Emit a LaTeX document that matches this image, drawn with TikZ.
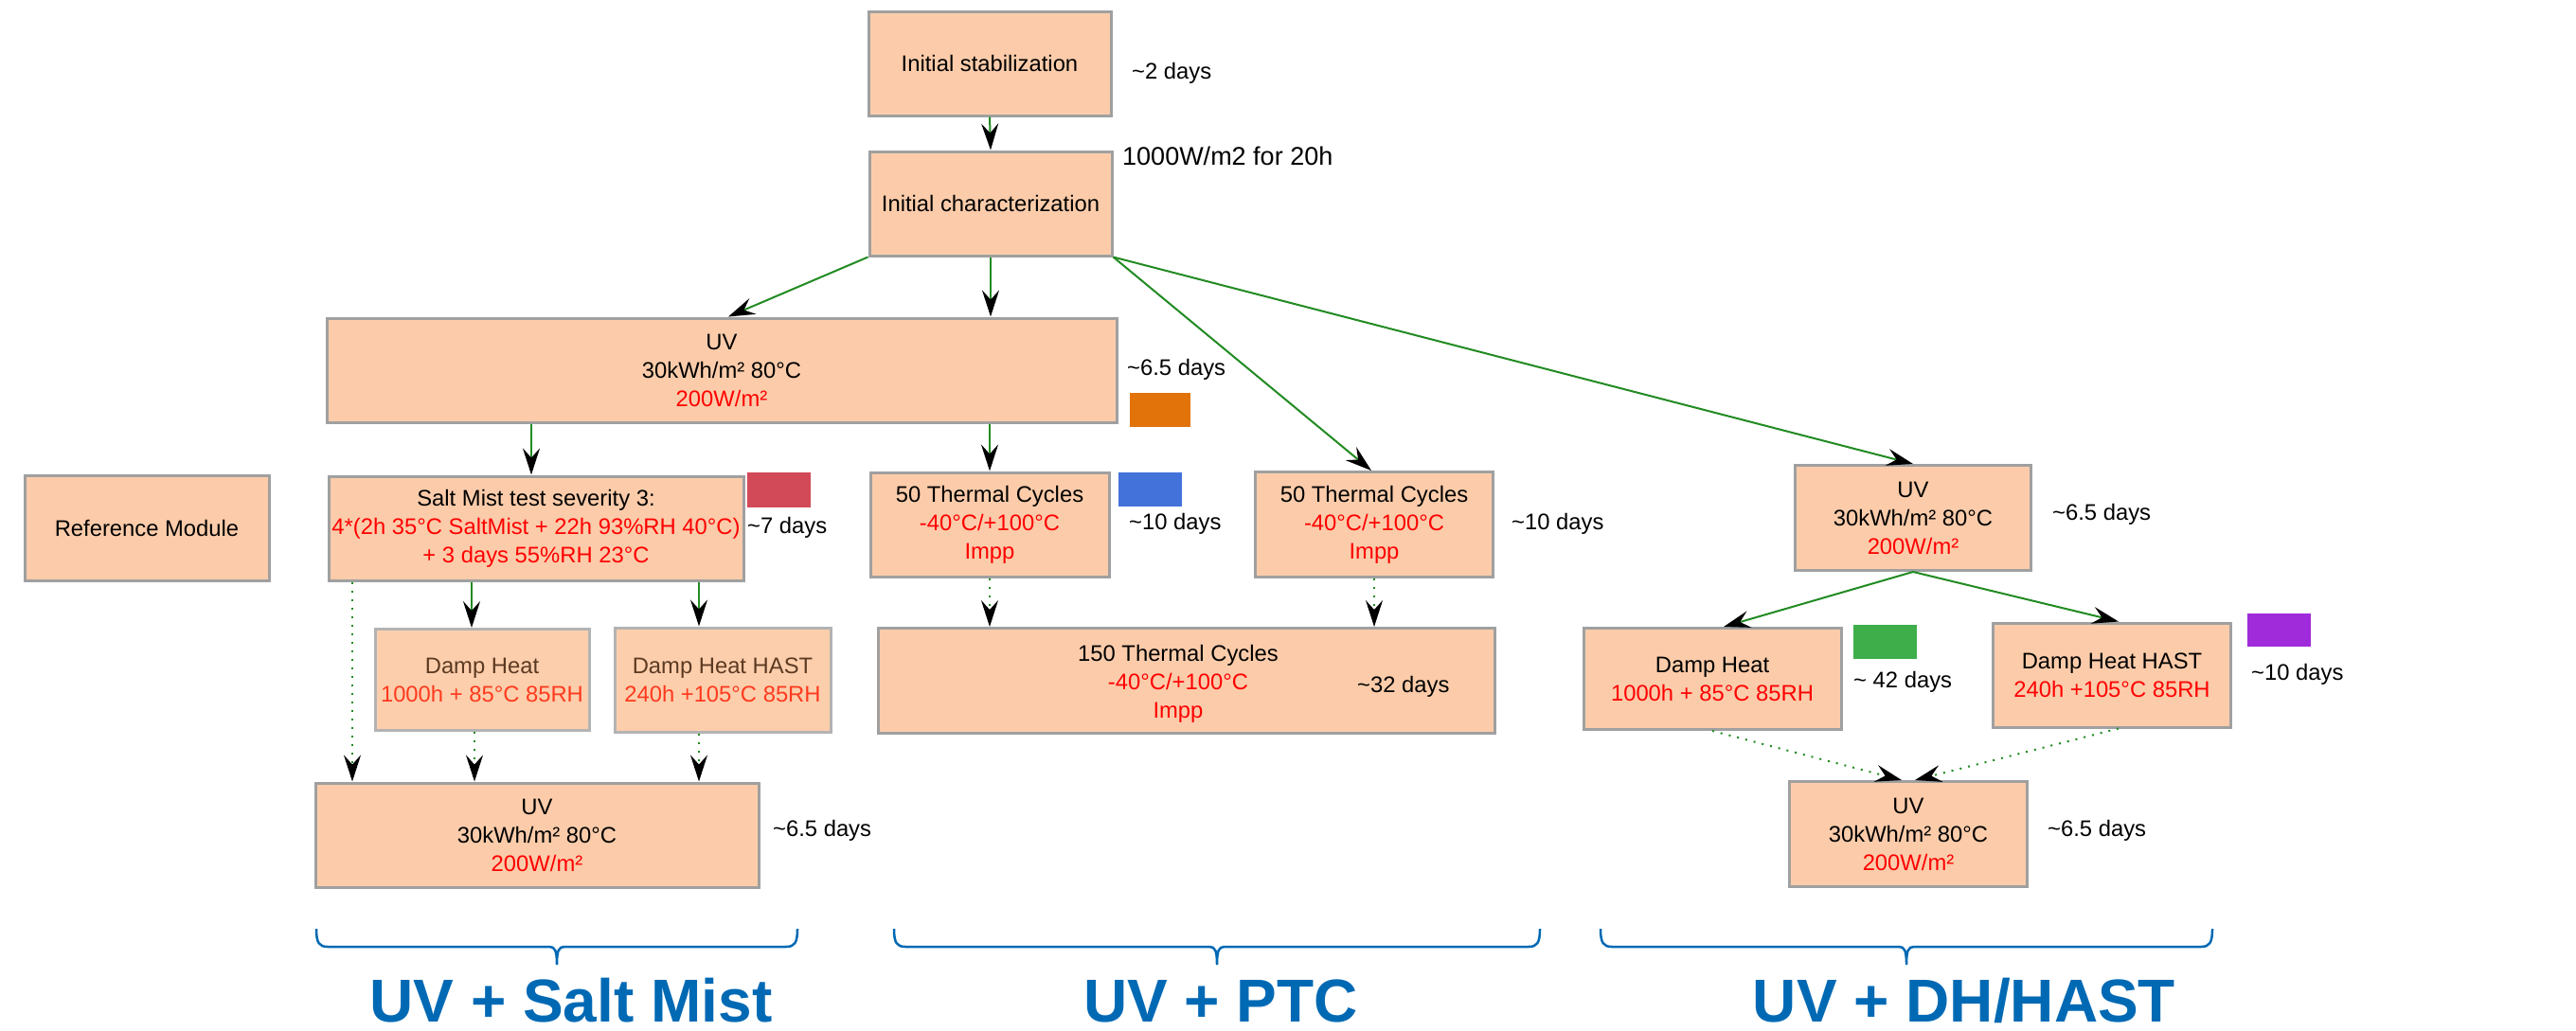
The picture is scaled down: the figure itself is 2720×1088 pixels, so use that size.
\documentclass[tikz,border=0pt]{standalone}
\usepackage{fontspec}
\setmainfont{Liberation Sans}
\usetikzlibrary{arrows.meta,calc}
\definecolor{peach}{RGB}{252,204,170}
\definecolor{peachl}{RGB}{253,206,172}
\definecolor{boxgray}{RGB}{160,160,160}
\definecolor{lgreen}{RGB}{34,139,34}
\definecolor{sqorange}{RGB}{226,115,10}
\definecolor{sqred}{RGB}{210,74,87}
\definecolor{sqblue}{RGB}{68,114,219}
\definecolor{sqgreen}{RGB}{61,174,74}
\definecolor{sqpurple}{RGB}{160,43,219}
\definecolor{bblue}{RGB}{0,105,180}
\definecolor{brn}{RGB}{92,58,34}
\definecolor{ored}{RGB}{255,58,30}
\newcommand\fs{\fontsize{23.8}{30}\selectfont}
\newcommand\apx{\textasciitilde}
\newcommand\rd[1]{\textcolor{red}{#1}}
\newcommand\BraceAt[3]{\draw[bracestyle] (#1,981) .. controls (#1,996) and (#1+3,1000) .. (#1+12,1000) -- (#2-8,1000) .. controls (#2-2,1000) and (#2,1004) .. (#2,1019) .. controls (#2,1004) and (#2+2,1000) .. (#2+8,1000) -- (#3-12,1000) .. controls (#3-3,1000) and (#3,996) .. (#3,981);}
\tikzset{
  box/.style={draw=boxgray, line width=3pt, fill=peach, align=center, inner sep=0pt, font=\fs},
  fbox/.style={box, draw=boxgray!80, fill=peachl},
  txt/.style={align=center, inner sep=0pt, font=\fs},
  day/.style={anchor=west, inner sep=0pt, font=\fs},
  sq/.style={inner sep=0pt, draw=none},
  arr/.style={line width=2pt, draw=lgreen, -{Stealth[length=28pt,width=18pt,inset=10pt,color=black]}},
  dotarr/.style={arr, dash pattern=on 2pt off 7pt},
  bracestyle/.style={draw=bblue, line width=2.5pt},
  lbl/.style={anchor=base, inner sep=0pt, text=bblue, font=\fontsize{64}{70}\selectfont\bfseries}
}
\begin{document}
\begin{tikzpicture}[x=1pt,y=-1pt]
\useasboundingbox (0,0) rectangle (2720,1088);
\fill[white] (0,0) rectangle (2720,1088);

% boxes
\node[box,minimum width=256pt,minimum height=110pt] (stab) at (1045,67) {Initial stabilization};
\node[box,minimum width=256pt,minimum height=110pt] (char) at (1046,215) {Initial characterization};
\node[box,minimum width=834pt,minimum height=110pt] (uvt) at (762,391) {UV\\30kWh/m² 80°C\\\rd{200W/m²}};
\node[box,minimum width=258pt,minimum height=111pt] (ref) at (155,558) {Reference Module};
\node[box,minimum width=438pt,minimum height=110pt] (salt) at (566,558) {Salt Mist test severity 3:\\\rd{4*(2h 35°C SaltMist + 22h 93\%RH 40°C)}\\\rd{+ 3 days 55\%RH 23°C}};
\node[box,minimum width=252pt,minimum height=110pt] (tc1) at (1045,554) {50 Thermal Cycles\\\rd{-40°C/+100°C}\\\rd{Impp}};
\node[box,minimum width=251pt,minimum height=111pt] (tc2) at (1451,554) {50 Thermal Cycles\\\rd{-40°C/+100°C}\\\rd{Impp}};
\node[box,minimum width=249pt,minimum height=111pt] (uvr) at (2020,547) {UV\\30kWh/m² 80°C\\\rd{200W/m²}};
\node[fbox,minimum width=226pt,minimum height=107pt] (dh1) at (509,718) {\textcolor{brn}{Damp Heat}\\\textcolor{ored}{1000h + 85°C 85RH}};
\node[fbox,minimum width=228pt,minimum height=110pt] (hast1) at (763,718) {\textcolor{brn}{Damp Heat HAST}\\\textcolor{ored}{240h +105°C 85RH}};
\node[box,minimum width=651pt,minimum height=111pt] (tc150) at (1253,719) {};
\node[txt] (tc150t) at (1244,722) {150 Thermal Cycles\\\rd{-40°C/+100°C}\\\rd{Impp}};
\node[day] (d32) at (1433,725) {\apx32 days};
\node[box,minimum width=272pt,minimum height=107pt] (dhr) at (1808,717) {Damp Heat\\\rd{1000h + 85°C 85RH}};
\node[box,minimum width=251pt,minimum height=110pt] (hastr) at (2230,713) {Damp Heat HAST\\\rd{240h +105°C 85RH}};
\node[box,minimum width=468pt,minimum height=110pt] (uvbl) at (567,882) {UV\\30kWh/m² 80°C\\\rd{200W/m²}};
\node[box,minimum width=251pt,minimum height=111pt] (uvbr) at (2015,881) {UV\\30kWh/m² 80°C\\\rd{200W/m²}};

% colour squares
\node[sq,fill=sqorange,minimum width=64pt,minimum height=36pt] (sqo) at (1225,433) {};
\node[sq,fill=sqred,minimum width=67pt,minimum height=37pt] (sqr) at (822,517) {};
\node[sq,fill=sqblue,minimum width=67pt,minimum height=36pt] (sqb) at (1214,517) {};
\node[sq,fill=sqgreen,minimum width=67pt,minimum height=36pt] (sqg) at (1990,678) {};
\node[sq,fill=sqpurple,minimum width=67pt,minimum height=35pt] (sqp) at (2406,665) {};

% duration labels
\node[day] (d1) at (1195,77) {\apx2 days};
\node[day,font=\fontsize{27}{30}\selectfont] (d2) at (1185,165) {1000W/m2 for 20h};
\node[day] (d3) at (1190,390) {\apx6.5 days};
\node[day] (d4) at (789,557) {\apx7 days};
\node[day] (d5) at (1192,553) {\apx10 days};
\node[day] (d6) at (1596,553) {\apx10 days};
\node[day] (d7) at (2167,543) {\apx6.5 days};
\node[day] (d8) at (1957,720) {\apx\ 42 days};
\node[day] (d9) at (2377,712) {\apx10 days};
\node[day] (d10) at (2162,877) {\apx6.5 days};
\node[day] (d11) at (816,877) {\apx6.5 days};

% helper coordinates
\coordinate (c6) at ([xshift=-5pt]salt.north);
\coordinate (c8) at ([xshift=-11pt]dh1.north);
\coordinate (c9) at ([xshift=-25pt]hast1.north);
\coordinate (c10) at ([xshift=-195pt]uvbl.north);
\coordinate (c11) at ([xshift=-8pt]dh1.south);

% connectors
\draw[arr] (stab.south) -- (char.north);
\draw[arr] (char.south west) -- ([xshift=7pt]uvt.north);
\draw[arr] (char.south) -- (char.south |- uvt.north);
\draw[arr] (char.south east) -- ([xshift=-3pt]tc2.north);
\draw[arr] (char.south east) -- (uvr.north);
\draw[arr] (c6 |- uvt.south) -- (c6);
\draw[arr] (tc1.north |- uvt.south) -- (tc1.north);
\draw[arr] (c8 |- salt.south) -- (c8);
\draw[arr] (c9 |- salt.south) -- (c9);
\draw[dotarr] (c10 |- salt.south) -- (c10);
\draw[dotarr] (c11) -- (c11 |- uvbl.north);
\draw[dotarr] (c9 |- hast1.south) -- (c9 |- uvbl.north);
\draw[dotarr] (tc1.south) -- (tc1.south |- tc150.north);
\draw[dotarr] (tc2.south) -- (tc2.south |- tc150.north);
\draw[arr] (uvr.south) -- ([xshift=12pt]dhr.north);
\draw[arr] (uvr.south) -- ([xshift=7pt]hastr.north);
\draw[dotarr] (dhr.south) -- ([xshift=-7pt]uvbr.north);
\draw[dotarr] ([xshift=7pt]hastr.south) -- ([xshift=7pt]uvbr.north);

% braces and group labels
\BraceAt{334}{588}{842}
\BraceAt{944}{1285}{1626}
\BraceAt{1690}{2013}{2336}
\node[lbl] (g1) at (603,1079) {UV + Salt Mist};
\node[lbl] (g2) at (1289,1079) {UV + PTC};
\node[lbl] (g3) at (2074,1079) {UV + DH/HAST};
\end{tikzpicture}
\end{document}
